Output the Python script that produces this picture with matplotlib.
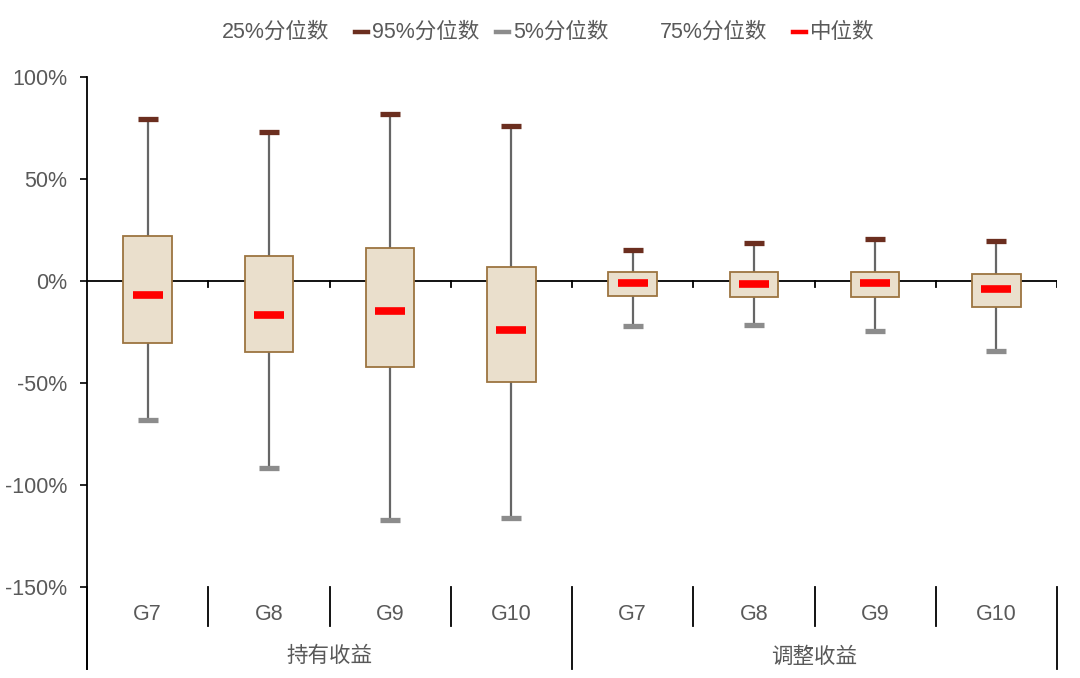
import numpy as np
import matplotlib
matplotlib.use("Agg")
import matplotlib.pyplot as plt
from matplotlib.lines import Line2D
from matplotlib.ticker import FuncFormatter

plt.rcParams['font.family'] = ['Liberation Sans', 'Noto Sans CJK SC', 'DejaVu Sans']

# data (fractions)
groups = ['持有收益', '调整收益']
categories = ['G7', 'G8', 'G9', 'G10', 'G7', 'G8', 'G9', 'G10']
p95 = [0.794, 0.730, 0.820, 0.760, 0.152, 0.188, 0.207, 0.198]
p75 = [0.220, 0.123, 0.162, 0.069, 0.042, 0.046, 0.044, 0.034]
median = [-0.069, -0.167, -0.147, -0.240, -0.008, -0.013, -0.010, -0.038]
p25 = [-0.304, -0.348, -0.422, -0.495, -0.074, -0.080, -0.080, -0.126]
p5 = [-0.680, -0.917, -1.170, -1.160, -0.220, -0.217, -0.247, -0.342]

yticks = [-1.5, -1.0, -0.5, 0.0, 0.5, 1.0]

text_color = '#595959'
box_fill = '#EADFCC'
box_edge = '#9C7440'
whisker_color = '#666666'
top_cap = '#6B2E1F'
bot_cap = '#8C8C8C'
med_color = '#FF0000'
fs = 15.5

W, H = 1080, 678
fig = plt.figure(figsize=(W / 100, H / 100), dpi=100)
ax = fig.add_axes([87 / W, 1 - 587 / H, 970 / W, 510 / H])

x = np.arange(len(categories)) + 0.5

ax.vlines(x, p5, p95, color=whisker_color, lw=1.6, zorder=2)
ax.bar(x, np.array(p75) - np.array(p25), bottom=p25, width=0.40,
       color=box_fill, edgecolor=box_edge, linewidth=1.3, zorder=3)
ax.hlines(p95, x - 0.083, x + 0.083, color=top_cap, lw=3.8, zorder=4)
ax.hlines(p5, x - 0.083, x + 0.083, color=bot_cap, lw=3.8, zorder=4)
ax.hlines(median, x - 0.124, x + 0.124, color=med_color, lw=5.5, zorder=5)

ax.set_xlim(0, len(categories))
ax.set_ylim(-1.5, 1.0)
for s in ax.spines.values():
    s.set_visible(False)

ax.set_yticks(yticks)
ax.yaxis.set_major_formatter(FuncFormatter(lambda v, p: f"{v * 100:.0f}%"))
ax.tick_params(axis='y', direction='out', length=5, width=1.2, colors='black',
               labelcolor=text_color, labelsize=fs, pad=9)
ax.set_xticks([])

# zero axis with small ticks
ax.axhline(0, color='black', lw=1.3, zorder=1)
tick_len = 6 / 510 * 2.5
for b in range(1, len(categories) + 1):
    ax.plot([b, b], [0, -tick_len], color='black', lw=1.3, zorder=1)

# left axis line extending below plot
ax.plot([0, 0], [1, -(669 - 587) / 510], transform=ax.transAxes,
        color='black', lw=1.3, clip_on=False)

# multi-level category axis
trans = ax.get_xaxis_transform()
n_per = len(categories) // len(groups)
for b in range(len(categories) + 1):
    low = -(669 - 587) / 510 if b % n_per == 0 else -(626 - 587) / 510
    ax.plot([b, b], [0, low], transform=trans, color='black', lw=1.3, clip_on=False)
for xi, c in zip(x, categories):
    ax.text(xi, -27 / 510, c, transform=trans, ha='center', va='center',
            fontsize=fs, color=text_color)
for g, name in enumerate(groups):
    ax.text(g * n_per + n_per / 2, -70 / 510, name, transform=trans,
            ha='center', va='center', fontsize=fs, color=text_color)

# legend row
ly = 1 - 32 / H
legend_items = [
    ('25%分位数', None, 222),
    ('95%分位数', top_cap, 355),
    ('5%分位数', bot_cap, 496),
    ('75%分位数', None, 660),
    ('中位数', med_color, 793),
]
for label, col, px in legend_items:
    if col is None:
        fig.text(px / W, ly, label, ha='left', va='center', fontsize=fs, color=text_color)
    else:
        fig.add_artist(Line2D([px / W, (px + 13) / W], [ly, ly], color=col, lw=3.2))
        fig.text((px + 17) / W, ly, label, ha='left', va='center', fontsize=fs, color=text_color)

fig.savefig('out.png', dpi=100)
